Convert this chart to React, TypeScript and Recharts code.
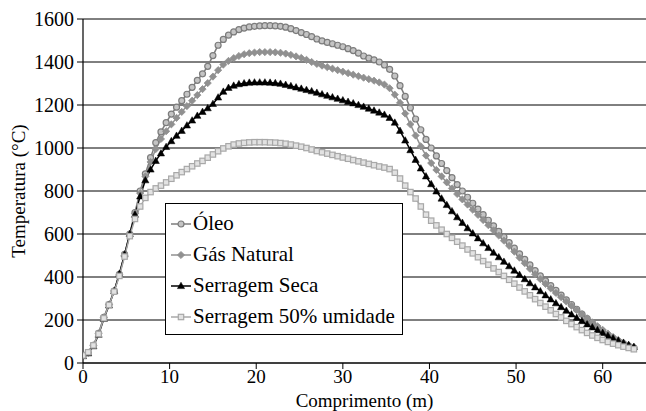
import React from "react";
import { LineChart, Line, XAxis, YAxis, CartesianGrid, Legend } from "recharts";

// comprimento do forno (m)
const comprimento = [
  0, 0.6, 1.2, 1.8, 2.4, 3, 3.6, 4.2, 4.8, 5.4,
  6, 6.6, 7.2, 7.8, 8.4, 9, 9.6, 10.2, 10.8, 11.4,
  12, 12.6, 13.2, 13.8, 14.4, 15, 15.6, 16.2, 16.8, 17.4,
  18, 18.6, 19.2, 19.8, 20.4, 21, 21.6, 22.2, 22.8, 23.4,
  24, 24.6, 25.2, 25.8, 26.4, 27, 27.6, 28.2, 28.8, 29.4,
  30, 30.6, 31.2, 31.8, 32.4, 33, 33.6, 34.2, 34.8, 35.4,
  36, 36.6, 37.2, 37.8, 38.4, 39, 39.6, 40.2, 40.8, 41.4,
  42, 42.6, 43.2, 43.8, 44.4, 45, 45.6, 46.2, 46.8, 47.4,
  48, 48.6, 49.2, 49.8, 50.4, 51, 51.6, 52.2, 52.8, 53.4,
  54, 54.6, 55.2, 55.8, 56.4, 57, 57.6, 58.2, 58.8, 59.4,
  60, 60.6, 61.2, 61.8, 62.4, 63, 63.6,
];

const oleo = [
  35, 48, 82, 138, 212, 272, 335, 412, 505, 600,
  700, 800, 880, 955, 1025, 1075, 1118, 1158, 1190, 1220,
  1250, 1282, 1315, 1345, 1380, 1430, 1478, 1505, 1525, 1540,
  1551, 1558, 1563, 1566, 1568, 1569, 1569, 1568, 1566, 1562,
  1555, 1546, 1537, 1528, 1518, 1507, 1498, 1491, 1485, 1478,
  1471, 1462, 1453, 1441, 1428, 1418, 1410, 1400, 1386, 1366,
  1335, 1290, 1240, 1187, 1135, 1085, 1040, 1000, 963, 928,
  895, 862, 830, 800, 771, 743, 716, 690, 664, 638,
  612, 586, 560, 534, 508, 482, 456, 430, 405, 382,
  360, 338, 316, 294, 272, 250, 228, 206, 185, 165,
  146, 128, 113, 100, 89, 79, 70,
];

const gasNatural = [
  35, 48, 82, 138, 212, 272, 335, 410, 500, 598,
  695, 790, 868, 935, 995, 1042, 1078, 1110, 1140, 1168,
  1195, 1220, 1246, 1274, 1302, 1332, 1362, 1388, 1405, 1418,
  1428, 1436, 1441, 1444, 1446, 1446, 1446, 1445, 1443, 1439,
  1433, 1426, 1419, 1410, 1400, 1391, 1383, 1376, 1369, 1362,
  1355, 1348, 1341, 1334, 1327, 1320, 1313, 1305, 1295, 1278,
  1248, 1210, 1160, 1110, 1058, 1008, 965, 930, 898, 868,
  840, 812, 786, 761, 737, 713, 689, 665, 641, 617,
  593, 569, 545, 518, 490, 464, 438, 413, 390, 368,
  347, 326, 306, 286, 266, 246, 227, 208, 189, 171,
  154, 137, 121, 107, 94, 83, 73,
];

const serragemSeca = [
  32, 45, 78, 132, 205, 268, 335, 415, 505, 600,
  690, 775, 850, 900, 940, 975, 1005, 1032, 1057, 1080,
  1105, 1128, 1150, 1168, 1185, 1205, 1235, 1262, 1280, 1290,
  1297, 1301, 1304, 1305, 1305, 1305, 1304, 1302, 1299, 1294,
  1288, 1282, 1276, 1270, 1264, 1257, 1250, 1243, 1236, 1229,
  1222, 1215, 1208, 1200, 1192, 1183, 1174, 1165, 1155, 1140,
  1118, 1080, 1035, 990, 945, 905, 868, 832, 798, 765,
  735, 706, 678, 652, 627, 603, 580, 557, 535, 513,
  492, 471, 450, 430, 410, 390, 371, 352, 334, 315,
  296, 278, 260, 243, 226, 210, 195, 180, 166, 153,
  140, 127, 115, 104, 94, 84, 75,
];

const serragemUmida = [
  35, 50, 82, 135, 208, 270, 332, 405, 495, 590,
  670, 728, 768, 795, 812, 825, 840, 857, 873, 888,
  902, 915, 928, 940, 955, 970, 985, 998, 1008, 1016,
  1021, 1024, 1026, 1027, 1027, 1027, 1026, 1025, 1023, 1020,
  1016, 1011, 1006, 1000, 993, 986, 980, 974, 968, 962,
  956, 950, 944, 938, 932, 926, 920, 914, 909, 902,
  885, 858, 825, 795, 765, 728, 690, 662, 640, 620,
  600, 582, 564, 546, 528, 510, 492, 474, 457, 440,
  423, 405, 387, 369, 351, 333, 315, 297, 279, 262,
  245, 228, 212, 196, 181, 167, 153, 140, 128, 117,
  107, 98, 90, 83, 76, 70, 64,
];

const xTicks = [0, 10, 20, 30, 40, 50, 60];
const yTicks = [0, 200, 400, 600, 800, 1000, 1200, 1400, 1600];

const data = comprimento.map((x, i) => ({
  x,
  oleo: oleo[i],
  gas: gasNatural[i],
  seca: serragemSeca[i],
  umida: serragemUmida[i],
}));

type Shape = "circle" | "diamond" | "triangle" | "square";

const series: { key: string; name: string; color: string; fill: string; shape: Shape }[] = [
  { key: "oleo", name: "Óleo", color: "#7c7c7c", fill: "#c4c4c4", shape: "circle" },
  { key: "gas", name: "Gás Natural", color: "#909090", fill: "#909090", shape: "diamond" },
  { key: "seca", name: "Serragem Seca", color: "#000000", fill: "#000000", shape: "triangle" },
  { key: "umida", name: "Serragem 50% umidade", color: "#a8a8a8", fill: "#e2e2e2", shape: "square" },
];

const FONT = "'Liberation Serif', 'Times New Roman', Times, 'DejaVu Serif', serif";

function Marker({ shape, cx, cy, color, fill }: { shape: Shape; cx: number; cy: number; color: string; fill: string }) {
  if (shape === "circle") {
    return <circle cx={cx} cy={cy} r={3} stroke={color} strokeWidth={1.2} fill={fill} />;
  }
  if (shape === "diamond") {
    const d = 3.6;
    return (
      <polygon
        points={`${cx},${cy - d} ${cx + d},${cy} ${cx},${cy + d} ${cx - d},${cy}`}
        stroke={color}
        strokeWidth={0.8}
        fill={fill}
      />
    );
  }
  if (shape === "triangle") {
    return (
      <polygon
        points={`${cx},${cy - 3.8} ${cx + 3.6},${cy + 2.6} ${cx - 3.6},${cy + 2.6}`}
        fill={fill}
        stroke={color}
        strokeWidth={0.5}
      />
    );
  }
  return <rect x={cx - 2.7} y={cy - 2.7} width={5.4} height={5.4} stroke={color} strokeWidth={1.2} fill={fill} />;
}

const makeDot = (s: (typeof series)[number]) => (props: any) => {
  const { cx, cy, index } = props;
  if (cx == null || cy == null) return <g key={`${s.key}-${index}`} />;
  return (
    <g key={`${s.key}-${index}`}>
      <Marker shape={s.shape} cx={cx} cy={cy} color={s.color} fill={s.fill} />
    </g>
  );
};

function LegendBox() {
  return (
    <div style={{ fontFamily: FONT, fontSize: 21, color: "#000", paddingTop: 4 }}>
      {series.map((s) => (
        <div key={s.key} style={{ height: 31, lineHeight: "31px", display: "flex", alignItems: "center", paddingLeft: 4 }}>
          <svg width={22} height={12} style={{ flex: "none" }}>
            <line x1={1} y1={6} x2={21} y2={6} stroke={s.color} strokeWidth={1.5} />
            <Marker shape={s.shape} cx={11} cy={6} color={s.color} fill={s.fill} />
          </svg>
          <span style={{ marginLeft: 1, whiteSpace: "nowrap" }}>{s.name}</span>
        </div>
      ))}
    </div>
  );
}

export default function App() {
  return (
    <div style={{ width: 646, height: 411, background: "#fff", fontFamily: FONT }}>
      <style>{"body{margin:0}"}</style>
      <LineChart width={646} height={411} data={data} margin={{ top: 19, right: 0, bottom: 0, left: 0 }}>
        <CartesianGrid vertical={false} stroke="#000" strokeWidth={1} />
        <XAxis
          dataKey="x"
          type="number"
          domain={[0, 65]}
          ticks={xTicks}
          allowDataOverflow
          height={48}
          axisLine={{ stroke: "#000", strokeWidth: 1.2 }}
          tickLine={{ stroke: "#000" }}
          tickSize={6}
          tickMargin={1}
          tick={{ fill: "#000", fontSize: 19, fontFamily: FONT }}
          label={{ value: "Comprimento (m)", position: "insideBottom", offset: 4, fill: "#000", fontSize: 19, fontFamily: FONT }}
        />
        <YAxis
          type="number"
          domain={[0, 1600]}
          ticks={yTicks}
          width={83}
          axisLine={{ stroke: "#000", strokeWidth: 1.2 }}
          tickLine={{ stroke: "#000" }}
          tickSize={6}
          tickMargin={3}
          tick={{ fill: "#000", fontSize: 20, fontFamily: FONT }}
          label={{
            value: "Temperatura (°C)",
            angle: -90,
            position: "insideLeft",
            offset: 18,
            fill: "#000",
            fontSize: 19,
            fontFamily: FONT,
            style: { textAnchor: "middle" },
          }}
        />
        <Legend
          layout="vertical"
          align="center"
          verticalAlign="middle"
          content={() => <LegendBox />}
          wrapperStyle={{
            left: 165,
            top: 203,
            width: 238,
            height: 132,
            border: "1.2px solid #000",
            background: "#fff",
            boxSizing: "border-box",
          }}
        />
        {series.map((s) => (
          <Line
            key={s.key}
            type="linear"
            dataKey={s.key}
            name={s.name}
            stroke={s.color}
            strokeWidth={1.5}
            dot={makeDot(s)}
            activeDot={false}
            isAnimationActive={false}
          />
        ))}
      </LineChart>
    </div>
  );
}
